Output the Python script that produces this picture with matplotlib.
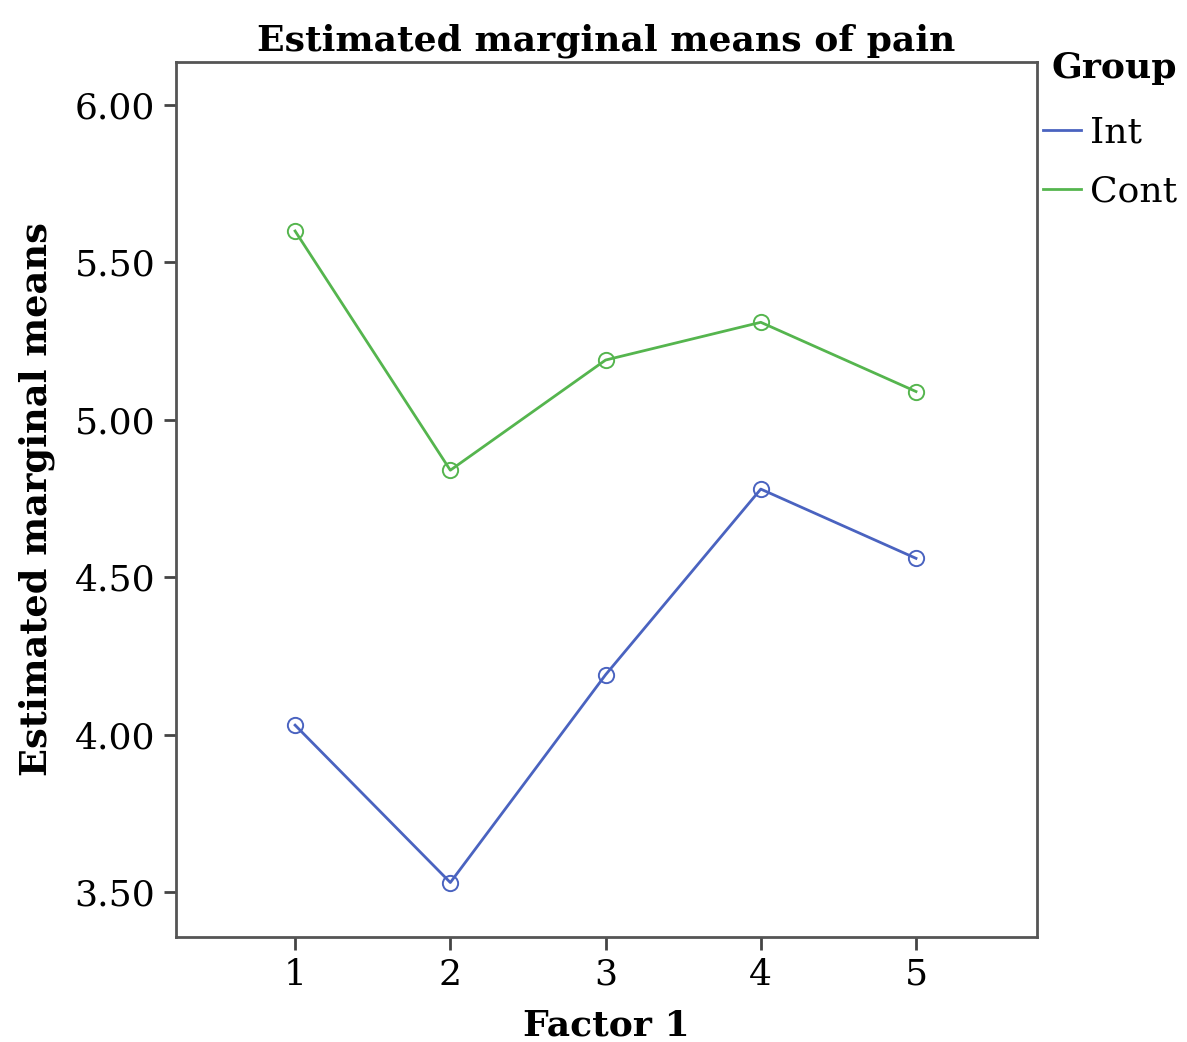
import matplotlib.pyplot as plt

plt.rcParams['font.family'] = ['DejaVu Serif']

factor = [1, 2, 3, 4, 5]
int_means = [4.03, 3.53, 4.19, 4.78, 4.56]
cont_means = [5.60, 4.84, 5.19, 5.31, 5.09]
yticks = [3.50, 4.00, 4.50, 5.00, 5.50, 6.00]

fig = plt.figure(figsize=(11.87, 10.42), dpi=100)
ax = fig.add_axes([0.1483, 0.1008, 0.7254, 0.8397])

ax.plot(factor, int_means, color='#4a63c0', lw=2, marker='o', markersize=11,
        markerfacecolor='none', markeredgewidth=1.4, label='Int')
ax.plot(factor, cont_means, color='#55b54e', lw=2, marker='o', markersize=11,
        markerfacecolor='none', markeredgewidth=1.4, label='Cont')

ax.set_xlim(0.233, 5.78)
ax.set_ylim(3.357, 6.137)
ax.set_xticks(factor)
ax.set_yticks(yticks)
ax.set_yticklabels([f'{v:.2f}' for v in yticks])
ax.tick_params(labelsize=26, length=9, width=2, color='#444444', pad=6)

for s in ax.spines.values():
    s.set_color('#555555')
    s.set_linewidth(2)

ax.set_title('Estimated marginal means of pain', fontsize=26, fontweight='bold', pad=8)
ax.set_xlabel('Factor 1', fontsize=26, fontweight='bold', labelpad=12)
ax.set_ylabel('Estimated marginal means', fontsize=26.5, fontweight='bold', labelpad=14)

leg = ax.legend(loc='upper left', bbox_to_anchor=(0.994, 1.025), frameon=False,
                title='Group', fontsize=26, handlelength=1.05, handletextpad=0.25,
                labelspacing=0.7, borderaxespad=0.2, borderpad=0.1)
leg.get_title().set_fontweight('bold')
leg.get_title().set_fontsize(26)
leg._legend_box.align = 'right'
leg._legend_box.sep = 22
for line in leg.get_lines():
    line.set_marker('')
    line.set_linewidth(2)

fig.savefig('out.png', dpi=100)
